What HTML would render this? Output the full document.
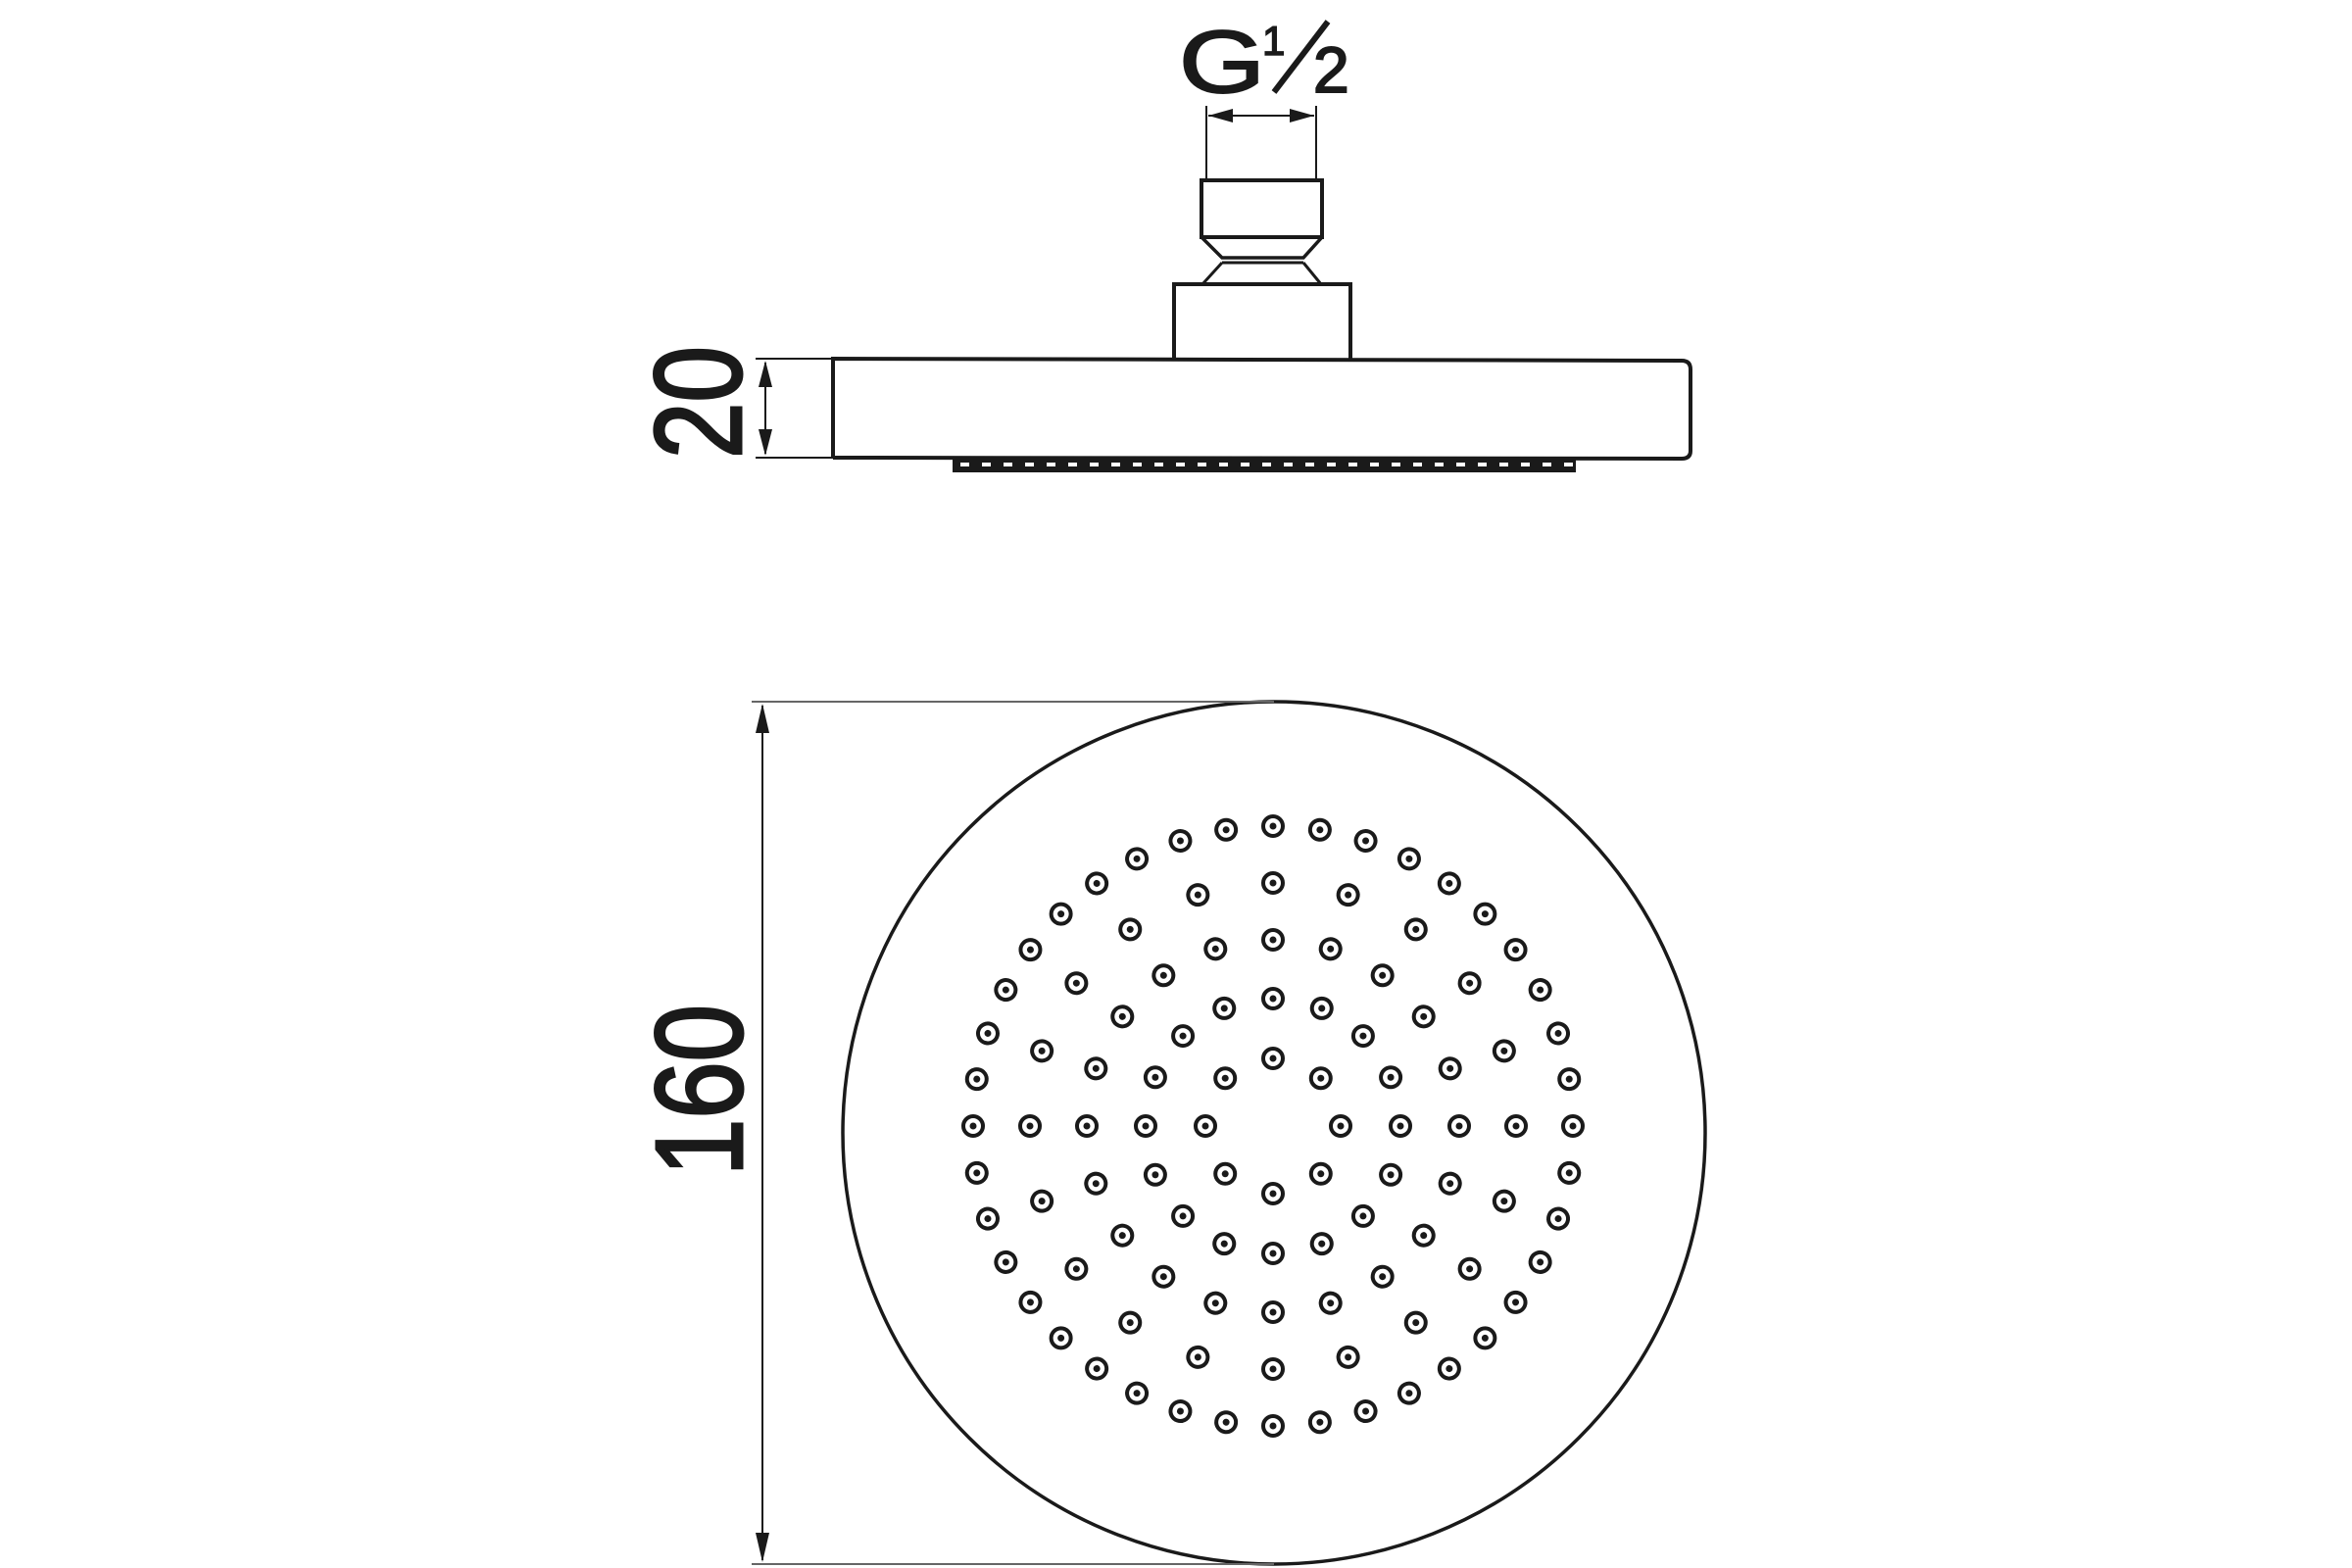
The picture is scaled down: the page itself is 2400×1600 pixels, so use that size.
<!DOCTYPE html>
<html><head><meta charset="utf-8"><style>html,body{margin:0;padding:0;background:#fff}svg{display:block}</style></head>
<body>
<svg width="2400" height="1600" viewBox="0 0 2400 1600" xmlns="http://www.w3.org/2000/svg">
<defs>
<g id="d"><circle r="10" fill="none" stroke="#1a1a1a" stroke-width="4"/><circle r="3.5" fill="#1a1a1a"/></g>
<g id="q">
<use href="#d" transform="rotate(0 1299 1149) translate(1605 1149)"/>
<use href="#d" transform="rotate(9 1299 1149) translate(1605 1149)"/>
<use href="#d" transform="rotate(18 1299 1149) translate(1605 1149)"/>
<use href="#d" transform="rotate(27 1299 1149) translate(1605 1149)"/>
<use href="#d" transform="rotate(36 1299 1149) translate(1605 1149)"/>
<use href="#d" transform="rotate(45 1299 1149) translate(1605 1149)"/>
<use href="#d" transform="rotate(54 1299 1149) translate(1605 1149)"/>
<use href="#d" transform="rotate(63 1299 1149) translate(1605 1149)"/>
<use href="#d" transform="rotate(72 1299 1149) translate(1605 1149)"/>
<use href="#d" transform="rotate(81 1299 1149) translate(1605 1149)"/>
<use href="#d" transform="rotate(0 1299 1149) translate(1547 1149)"/>
<use href="#d" transform="rotate(18 1299 1149) translate(1547 1149)"/>
<use href="#d" transform="rotate(36 1299 1149) translate(1547 1149)"/>
<use href="#d" transform="rotate(54 1299 1149) translate(1547 1149)"/>
<use href="#d" transform="rotate(72 1299 1149) translate(1547 1149)"/>
<use href="#d" transform="rotate(0 1299 1149) translate(1489 1149)"/>
<use href="#d" transform="rotate(18 1299 1149) translate(1489 1149)"/>
<use href="#d" transform="rotate(36 1299 1149) translate(1489 1149)"/>
<use href="#d" transform="rotate(54 1299 1149) translate(1489 1149)"/>
<use href="#d" transform="rotate(72 1299 1149) translate(1489 1149)"/>
<use href="#d" transform="rotate(0 1299 1149) translate(1429 1149)"/>
<use href="#d" transform="rotate(22.5 1299 1149) translate(1429 1149)"/>
<use href="#d" transform="rotate(45 1299 1149) translate(1429 1149)"/>
<use href="#d" transform="rotate(67.5 1299 1149) translate(1429 1149)"/>
<use href="#d" transform="rotate(0 1299 1149) translate(1368 1149)"/>
<use href="#d" transform="rotate(45 1299 1149) translate(1368 1149)"/>
</g>
</defs>
<g fill="none" stroke="#1a1a1a">
<line x1="1231" y1="108" x2="1231" y2="184" stroke-width="2"/>
<line x1="1343" y1="108" x2="1343" y2="184" stroke-width="2"/>
<line x1="1233" y1="118" x2="1341" y2="118" stroke-width="2"/>
<rect x="1226" y="184" width="123" height="58" stroke-width="4"/>
<path d="M1226 242 L1247 263 L1330 263 L1349 242" stroke-width="3.5"/>
<line x1="1247" y1="268" x2="1330" y2="268" stroke-width="3"/>
<path d="M1247 268 L1227 290 M1330 268 L1348 290" stroke-width="3"/>
<path d="M1198 367 L1198 290 L1378 290 L1378 367" stroke-width="4"/>
<path d="M850 467 L850 366 L1716 368 Q1725 368 1725 377 L1725 460 Q1725 468 1716 468 L850 467" stroke-width="4"/>
<line x1="771" y1="366" x2="850" y2="366" stroke-width="2"/>
<line x1="771" y1="467" x2="850" y2="467" stroke-width="2"/>
<line x1="781" y1="370" x2="781" y2="463" stroke-width="2"/>
<circle cx="1300" cy="1156" r="440" stroke-width="3.5"/>
<line x1="767" y1="716" x2="1300" y2="716" stroke-width="2" stroke="#666"/>
<line x1="767" y1="1596" x2="1300" y2="1596" stroke-width="2" stroke="#666"/>
<line x1="778" y1="720" x2="778" y2="1592" stroke-width="2"/>
<line x1="1300" y1="94" x2="1355" y2="22" stroke-width="6"/>
</g>
<g fill="#1a1a1a">
<polygon points="1233,118 1258,111 1258,125"/>
<polygon points="1341,118 1316,111 1316,125"/>
<polygon points="781,368 774,395 788,395"/>
<polygon points="781,465 774,438 788,438"/>
<polygon points="778,718 771,748 785,748"/>
<polygon points="778,1594 771,1564 785,1564"/>
<rect x="972" y="467" width="636" height="15"/>
</g>
<line x1="980" y1="474" x2="1605" y2="474" stroke="#fff" stroke-width="4" stroke-dasharray="9 13"/>
<g font-family="Liberation Sans, sans-serif" fill="#1a1a1a" stroke="#1a1a1a">
<text x="1203" y="94" font-size="90" stroke-width="2" textLength="88" lengthAdjust="spacingAndGlyphs">G</text>
<text x="1288" y="56" font-size="42" stroke-width="1.5">1</text>
<text x="1340" y="94" font-size="66" stroke-width="2">2</text>
<text transform="translate(756,468) rotate(-90)" font-size="126" stroke-width="3" textLength="115" lengthAdjust="spacingAndGlyphs">20</text>
<text transform="translate(757,1200) rotate(-90)" font-size="126" stroke-width="3" textLength="175" lengthAdjust="spacingAndGlyphs">160</text>
</g>
<use href="#q"/>
<use href="#q" transform="rotate(90 1299 1149)"/>
<use href="#q" transform="rotate(180 1299 1149)"/>
<use href="#q" transform="rotate(270 1299 1149)"/>
</svg>
</body></html>
